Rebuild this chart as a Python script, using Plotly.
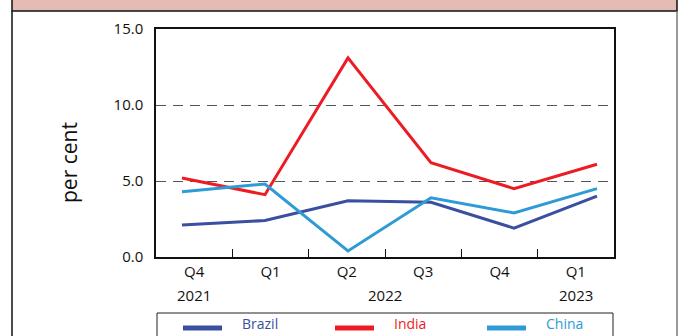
import plotly.graph_objects as go

# Quarterly values, per cent
quarters = ["Q4", "Q1", "Q2", "Q3", "Q4", "Q1"]
years = ["2021", "2022", "2023"]
year_pos = [0, 2.5, 5]
brazil = [2.1, 2.4, 3.7, 3.6, 1.9, 4.0]
india = [5.2, 4.1, 13.1, 6.2, 4.5, 6.1]
china = [4.3, 4.8, 0.4, 3.9, 2.9, 4.5]

series = [("Brazil", brazil, "#3a4fa0"), ("India", india, "#ed1c24"), ("China", china, "#2e9bd6")]

W, H = 683, 336
L, R, T, B = 156, 614, 29, 257  # plot area in pixels
FONT = "Open Sans"


def px(x):
    return (x - L) / (R - L)


def py(y):
    return (B - y) / (B - T)


fig = go.Figure()
for name, vals, col in series:
    fig.add_trace(go.Scatter(
        x=list(range(len(vals))), y=vals, mode="lines", name=name,
        line=dict(color=col, width=3), xaxis="x2", showlegend=False,
    ))

shapes = []
annotations = []

# outer frame and header band
shapes.append(dict(type="rect", xref="paper", yref="paper", x0=px(12), x1=px(677),
                   y0=py(11), y1=py(-5), fillcolor="#e5bcb4", line=dict(color="#111", width=1.5),
                   layer="below"))
shapes.append(dict(type="line", xref="paper", yref="paper", x0=px(12), x1=px(12),
                   y0=py(11), y1=py(340), line=dict(color="#111", width=1.5)))
shapes.append(dict(type="line", xref="paper", yref="paper", x0=px(677), x1=px(677),
                   y0=py(11), y1=py(340), line=dict(color="#777", width=1.5)))

# legend box and entries
shapes.append(dict(type="rect", xref="paper", yref="paper", x0=px(157), x1=px(613),
                   y0=py(345), y1=py(313), line=dict(color="#222", width=1)))
legend_x = [183, 335, 487]
for (name, vals, col), lx in zip(series, legend_x):
    shapes.append(dict(type="line", xref="paper", yref="paper", x0=px(lx), x1=px(lx + 39),
                       y0=py(328), y1=py(328), line=dict(color=col, width=5)))
    annotations.append(dict(text=name, xref="paper", yref="paper", x=px(lx + 57), y=py(335),
                            xanchor="left", yanchor="bottom", showarrow=False,
                            font=dict(family=FONT, size=14, color=col)))

# year labels under the quarter labels
for yr, pos in zip(years, year_pos):
    annotations.append(dict(text=yr, xref="x", yref="paper", x=pos, y=py(295),
                            xanchor="center", yanchor="middle", showarrow=False,
                            font=dict(family=FONT, size=15, color="#111")))

# y axis title
annotations.append(dict(text="per cent", xref="paper", yref="paper", x=px(69), y=py(163),
                        xanchor="center", yanchor="middle", textangle=-90, showarrow=False,
                        font=dict(family=FONT, size=21, color="#111")))

fig.update_layout(
    width=W, height=H,
    margin=dict(l=L, r=W - R, t=T, b=H - B),
    paper_bgcolor="white", plot_bgcolor="white",
    font=dict(family=FONT, size=15, color="#111"),
    showlegend=False,
    shapes=shapes, annotations=annotations,
    xaxis=dict(
        range=[-0.5, 5.5], tickvals=list(range(6)), ticktext=quarters,
        showgrid=False, zeroline=False, ticks="",
        showline=True, linecolor="#111", linewidth=1.5, mirror=True,
        minor=dict(tickvals=[0.5, 1.5, 2.5, 3.5, 4.5], ticks="inside", ticklen=8,
                   tickcolor="#111", tickwidth=1, showgrid=False),
        tickfont=dict(size=15), fixedrange=True,
    ),
    xaxis2=dict(range=[-0.313, 5.205], overlaying="x", visible=False, fixedrange=True),
    yaxis=dict(
        range=[0, 15], tickvals=[0, 5, 10, 15], ticktext=["0.0", "5.0", "10.0", "15.0"],
        showgrid=True, gridcolor="#555", griddash="10px,7px", gridwidth=1.2,
        zeroline=False, ticks="", ticklabelstandoff=8,
        showline=True, linecolor="#111", linewidth=1.5, mirror=True,
        tickfont=dict(size=15), fixedrange=True,
    ),
)

fig.write_html("out.html")
